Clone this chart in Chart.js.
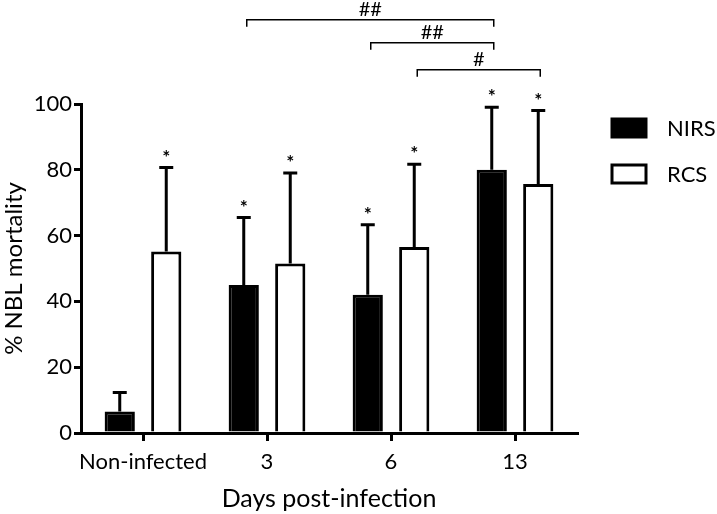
<!DOCTYPE html>
<html>
<head>
<meta charset="utf-8">
<script src="https://cdn.jsdelivr.net/npm/chart.js@4.4.1/dist/chart.umd.min.js"></script>
<style>
  html, body { margin: 0; padding: 0; background: #fff; }
  #wrap { width: 717px; height: 514px; position: relative; }
</style>
</head>
<body>
<div id="wrap"><canvas id="chart" width="717" height="514"></canvas></div>
<script>
// data
const categories = ['Non-infected', '3', '6', '13'];
const nirsMean = [6.5, 45, 42, 80];
const nirsUpper = [12.3, 65.5, 63.3, 99];     // top of error bar
const rcsMean = [55.2, 51.5, 56.5, 75.7];
const rcsUpper = [80.7, 79, 81.7, 98];
const nirsStar = [false, true, true, true];
const rcsStar = [true, true, true, true];
const yTicks = [0, 20, 40, 60, 80, 100];

// significance brackets: [dataset, category] -> [dataset, category], level in y units
const brackets = [
  { from: [0, 1], to: [0, 3], label: '##', level: 125.6 },
  { from: [0, 2], to: [0, 3], label: '##', level: 118.6 },
  { from: [1, 2], to: [1, 3], label: '#', level: 110.4 }
];

const FONT = 'Lato, "Open Sans", sans-serif';

const overlay = {
  id: 'overlay',
  afterDatasetsDraw(chart) {
    const ctx = chart.ctx;
    const y = chart.scales.y;
    const uppers = [nirsUpper, rcsUpper];
    const stars = [nirsStar, rcsStar];
    ctx.save();
    // error bars + asterisks
    [0, 1].forEach(d => {
      const meta = chart.getDatasetMeta(d);
      meta.data.forEach((bar, i) => {
        const top = y.getPixelForValue(uppers[d][i]);
        ctx.strokeStyle = '#000';
        ctx.lineWidth = 3;
        ctx.beginPath();
        ctx.moveTo(bar.x, bar.y);
        ctx.lineTo(bar.x, top);
        ctx.moveTo(bar.x - 7, top);
        ctx.lineTo(bar.x + 7, top);
        ctx.stroke();
        if (stars[d][i]) {
          ctx.fillStyle = '#000';
          ctx.font = 'bold 19px ' + FONT;
          ctx.textAlign = 'center';
          ctx.textBaseline = 'middle';
          ctx.fillText('*', bar.x, top - 10);
        }
      });
    });
    // brackets
    ctx.lineWidth = 1.5;
    ctx.font = '20px ' + FONT;
    ctx.fillStyle = '#000';
    brackets.forEach(b => {
      const x1 = chart.getDatasetMeta(b.from[0]).data[b.from[1]].x + 3;
      const x2 = chart.getDatasetMeta(b.to[0]).data[b.to[1]].x + 2;
      const by = y.getPixelForValue(b.level);
      ctx.beginPath();
      ctx.moveTo(x1, by + 7);
      ctx.lineTo(x1, by);
      ctx.lineTo(x2, by);
      ctx.lineTo(x2, by + 7);
      ctx.stroke();
      ctx.textAlign = 'center';
      ctx.textBaseline = 'alphabetic';
      ctx.fillText(b.label, (x1 + x2) / 2, by - 4);
    });
    // legend
    ctx.font = '22px ' + FONT;
    ctx.textAlign = 'left';
    ctx.textBaseline = 'middle';
    chart.data.datasets.forEach((ds, k) => {
      const ly = 128 + k * 46;
      ctx.fillStyle = ds.backgroundColor;
      ctx.fillRect(612, ly - 9, 34, 18);
      ctx.lineWidth = 3;
      ctx.strokeStyle = '#000';
      ctx.strokeRect(612, ly - 9, 34, 18);
      ctx.fillStyle = '#000';
      ctx.fillText(ds.label, 667, ly + 1);
    });
    ctx.restore();
  }
};

new Chart(document.getElementById('chart'), {
  type: 'bar',
  data: {
    labels: categories,
    datasets: [
      { label: 'NIRS', data: nirsMean, backgroundColor: '#000', borderColor: '#000', borderWidth: 3, borderSkipped: 'bottom' },
      { label: 'RCS', data: rcsMean, backgroundColor: '#fff', borderColor: '#000', borderWidth: 3, borderSkipped: 'bottom' }
    ]
  },
  options: {
    responsive: false,
    animation: false,
    categoryPercentage: 0.75,
    barPercentage: 0.65,
    layout: { padding: { top: 104, right: 140, left: 0, bottom: 0 } },
    plugins: { legend: { display: false }, tooltip: { enabled: false } },
    scales: {
      x: {
        grid: { display: true, drawOnChartArea: false, offset: false, color: '#000', lineWidth: 3, tickLength: 8 },
        border: { display: true, color: '#000', width: 3 },
        ticks: { color: '#000', font: { family: FONT, size: 22 }, padding: 8, maxRotation: 0, autoSkip: false },
        title: { display: true, text: 'Days post-infection', color: '#000', font: { family: FONT, size: 25 }, padding: { top: 2, bottom: 0 } },
        afterFit(s) { s.height = 81; }
      },
      y: {
        min: 0, max: 100,
        afterBuildTicks(s) { s.ticks = yTicks.map(v => ({ value: v })); },
        grid: { display: true, drawOnChartArea: false, color: '#000', lineWidth: 3, tickLength: 7 },
        border: { display: true, color: '#000', width: 3 },
        ticks: { color: '#000', font: { family: FONT, size: 22 }, padding: 2 },
        title: { display: true, text: '% NBL mortality', color: '#000', font: { family: FONT, size: 24 }, padding: 0 },
        afterFit(s) { s.width = 81; }
      }
    }
  },
  plugins: [overlay]
});
</script>
</body>
</html>
